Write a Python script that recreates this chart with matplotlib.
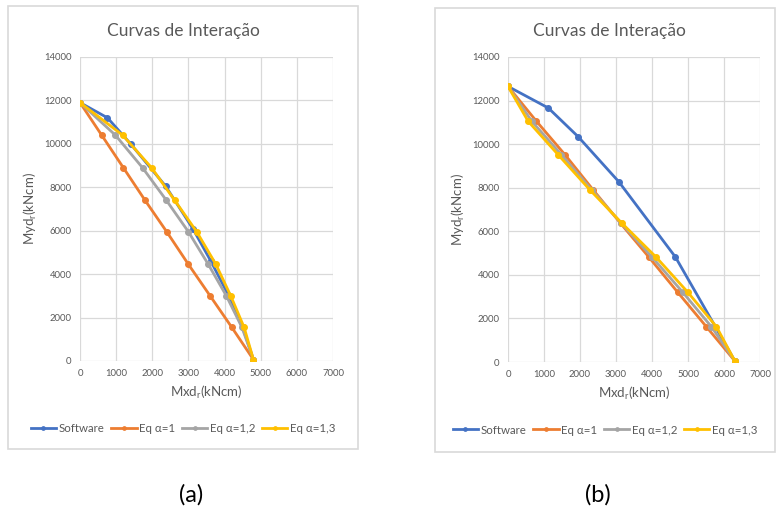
import matplotlib
matplotlib.use("Agg")
import matplotlib.pyplot as plt
from matplotlib.patches import Rectangle

plt.rcParams['font.family'] = ['Lato', 'DejaVu Sans']

# (a)
sw_a_x = [0, 760, 1400, 2370, 3120, 3620, 4100, 4500, 4800]
sw_a_y = [11900, 11200, 10000, 8050, 6100, 4600, 3050, 1550, 60]
eq1_a_x = [0, 600, 1200, 1800, 2400, 3000, 3600, 4200, 4800]
eq1_a_y = [11900, 10400, 8900, 7400, 5950, 4450, 3000, 1550, 60]
eq12_a_x = [0, 980, 1730, 2390, 3000, 3550, 4050, 4480, 4800]
eq12_a_y = [11900, 10400, 8900, 7400, 5950, 4450, 3000, 1550, 60]
eq13_a_x = [0, 1180, 1980, 2620, 3230, 3760, 4170, 4540, 4800]
eq13_a_y = [11900, 10400, 8900, 7400, 5950, 4450, 3000, 1550, 60]

# (b)
sw_b_x = [0, 1120, 1950, 3080, 4650, 5760, 6300]
sw_b_y = [12650, 11660, 10340, 8270, 4820, 1620, 50]
eq1_b_x = [0, 790, 1580, 2360, 3130, 3910, 4710, 5510, 6300]
eq1_b_y = [12650, 11050, 9520, 7910, 6360, 4820, 3210, 1620, 50]
eq12_b_x = [0, 660, 1480, 2320, 3150, 4000, 4850, 5650, 6300]
eq12_b_y = [12650, 11050, 9520, 7910, 6360, 4820, 3210, 1620, 50]
eq13_b_x = [0, 560, 1390, 2270, 3170, 4110, 4990, 5790, 6300]
eq13_b_y = [12650, 11050, 9520, 7910, 6360, 4820, 3210, 1620, 50]

labels = ["Software", "Eq α=1", "Eq α=1,2", "Eq α=1,3"]
colors = ["#4472C4", "#ED7D31", "#A5A5A5", "#FFC000"]
txt = "#595959"

W, H = 776, 515
fig = plt.figure(figsize=(W / 100, H / 100), dpi=100)


def px_rect(x0, y0, x1, y1):
    return [x0 / W, 1 - y1 / H, (x1 - x0) / W, (y1 - y0) / H]


def draw_panel(rect, series, box, title_x, legend_y, tag, tag_x):
    # chart frame like excel
    bx = px_rect(*box)
    fig.patches.append(Rectangle((bx[0], bx[1]), bx[2], bx[3], transform=fig.transFigure,
                                 fill=False, edgecolor="#D9D9D9", lw=1.2))
    ax = fig.add_axes(px_rect(*rect))
    for (xs, ys), c, lab in zip(series, colors, labels):
        ax.plot(xs, ys, color=c, lw=2.0, marker="o", ms=4, label=lab)
    ax.set_xlim(0, 7000)
    ax.set_ylim(0, 14000)
    ax.set_xticks(range(0, 7001, 1000))
    ax.set_yticks(range(0, 14001, 2000))
    ax.grid(True, color="#D9D9D9", lw=0.9)
    ax.set_axisbelow(True)
    for s in ax.spines.values():
        s.set_visible(False)
    ax.tick_params(length=0, labelsize=6.8, labelcolor=txt, pad=6)
    ax.set_xlabel(r"Mxd$_\mathregular{r}$(kNcm)", fontsize=9.5, color=txt, labelpad=4)
    ax.set_ylabel(r"Myd$_\mathregular{r}$(kNcm)", fontsize=9.5, color=txt, labelpad=4)
    fig.text(title_x / W, 1 - 31 / H, "Curvas de Interação", fontsize=12.5, color=txt,
             ha="center", va="center")
    ax.legend(loc="center", bbox_to_anchor=((box[0] + box[2]) / 2 / W, 1 - legend_y / H),
              bbox_transform=fig.transFigure, ncol=4, frameon=False, fontsize=8.3,
              labelcolor=txt, handlelength=2.2, handletextpad=0.2, columnspacing=0.6,
              markerscale=0.6)
    fig.text(tag_x / W, 1 - 495 / H, tag, fontsize=17, color="black", ha="center", va="center")
    return ax


draw_panel((80, 57, 333, 361),
           [(sw_a_x, sw_a_y), (eq1_a_x, eq1_a_y), (eq12_a_x, eq12_a_y), (eq13_a_x, eq13_a_y)],
           (8, 6, 358, 449), 183, 429, "(a)", 191)
draw_panel((508, 57, 760, 362),
           [(sw_b_x, sw_b_y), (eq1_b_x, eq1_b_y), (eq12_b_x, eq12_b_y), (eq13_b_x, eq13_b_y)],
           (435, 8, 775, 452), 609, 430, "(b)", 598)

fig.savefig("out.png", dpi=100)
